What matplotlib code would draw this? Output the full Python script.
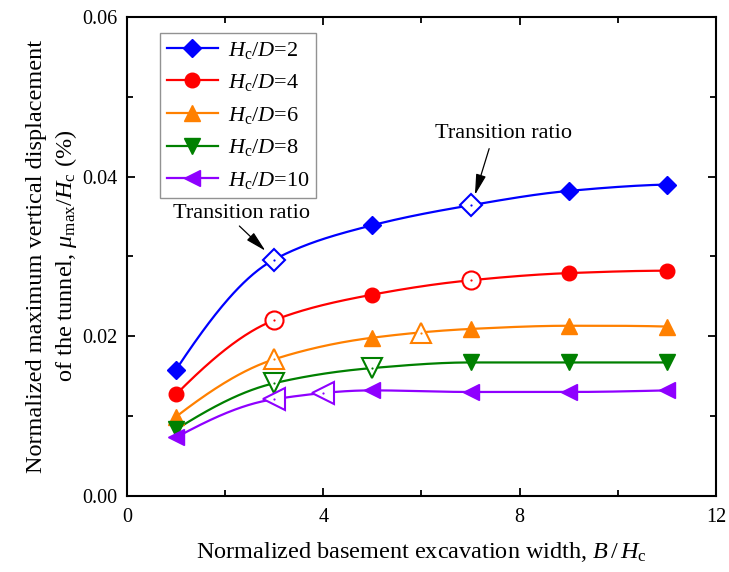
import numpy as np
import matplotlib
matplotlib.use("Agg")
import matplotlib.pyplot as plt
from matplotlib.ticker import MultipleLocator, FormatStrFormatter

plt.rcParams["font.family"] = ["Liberation Serif", "DejaVu Serif"]
plt.rcParams["mathtext.fontset"] = "custom"
plt.rcParams["mathtext.rm"] = "Liberation Serif"
plt.rcParams["mathtext.it"] = "Liberation Serif:italic"
plt.rcParams["mathtext.bf"] = "Liberation Serif:bold"

# B/Hc values of the main series
width_ratio = [1, 3, 5, 7, 9, 11]

disp_hd2 = [0.0158, 0.0296, 0.0339, 0.0364, 0.0382, 0.0390]
disp_hd4 = [0.0127, 0.0220, 0.0252, 0.0270, 0.0279, 0.0282]
disp_hd6 = [0.0099, 0.0171, 0.0198, 0.0209, 0.0213, 0.0212]
disp_hd8 = [0.0083, 0.0141, 0.0160, 0.0167, 0.0167, 0.0167]
disp_hd10 = [0.0073, 0.0121, 0.0132, 0.0130, 0.0130, 0.0132]

labels = ["$H_\\mathrm{c}/D$=2", "$H_\\mathrm{c}/D$=4", "$H_\\mathrm{c}/D$=6",
          "$H_\\mathrm{c}/D$=8", "$H_\\mathrm{c}/D$=10"]
colors = ["#0000FF", "#FF0000", "#FF8000", "#008000", "#8F00FF"]
markers = ["D", "o", "^", "v", "<"]

# transition points (hollow markers)
trans_x = [[3, 7], [3, 7], [3, 6], [3, 5], [3, 4]]
trans_y = [[0.0296, 0.0364], [0.0220, 0.0270], [0.0171, 0.0204],
           [0.0141, 0.0160], [0.0121, 0.0129]]

ms_full = {"D": 9.2, "o": 10.5, "^": 12, "v": 12, "<": 12}
ms_hollow = {"D": 11.2, "o": 13, "^": 15, "v": 15, "<": 15.5}


def pchip(x, y, n=300):
    # monotone piecewise cubic (Fritsch-Carlson) through the points
    x = np.asarray(x, float)
    y = np.asarray(y, float)
    h = np.diff(x)
    d = np.diff(y) / h
    m = np.zeros_like(y)
    for i in range(1, len(x) - 1):
        if d[i - 1] * d[i] > 0:
            w1 = 2 * h[i] + h[i - 1]
            w2 = h[i] + 2 * h[i - 1]
            m[i] = (w1 + w2) / (w1 / d[i - 1] + w2 / d[i])
    m[0] = ((2 * h[0] + h[1]) * d[0] - h[0] * d[1]) / (h[0] + h[1])
    if np.sign(m[0]) != np.sign(d[0]):
        m[0] = 0
    m[-1] = ((2 * h[-1] + h[-2]) * d[-1] - h[-1] * d[-2]) / (h[-1] + h[-2])
    if np.sign(m[-1]) != np.sign(d[-1]):
        m[-1] = 0
    xs = np.linspace(x[0], x[-1], n)
    idx = np.clip(np.searchsorted(x, xs) - 1, 0, len(x) - 2)
    t = (xs - x[idx]) / h[idx]
    h00 = 2 * t ** 3 - 3 * t ** 2 + 1
    h10 = t ** 3 - 2 * t ** 2 + t
    h01 = -2 * t ** 3 + 3 * t ** 2
    h11 = t ** 3 - t ** 2
    ys = h00 * y[idx] + h10 * h[idx] * m[idx] + h01 * y[idx + 1] + h11 * h[idx] * m[idx + 1]
    return xs, ys


fig = plt.figure(figsize=(7.29, 5.72), dpi=100)
ax = fig.add_axes([0.1742, 0.1334, 0.8078, 0.8369])

series = [disp_hd2, disp_hd4, disp_hd6, disp_hd8, disp_hd10]
for vals, lab, c, m, tx, ty in zip(series, labels, colors, markers, trans_x, trans_y):
    xs, ys = pchip(width_ratio, vals)
    ax.plot(xs, ys, color=c, lw=1.6, zorder=2)
    full_x = [x for x in width_ratio if x not in tx]
    full_y = [v for x, v in zip(width_ratio, vals) if x not in tx]
    ax.plot(full_x, full_y, ls="none", marker=m, color=c, ms=ms_full[m], zorder=3)
    ax.plot(tx, ty, ls="none", marker=m, mfc="white", mec=c, mew=1.5,
            ms=ms_hollow[m], zorder=4)
    ax.plot(tx, ty, ls="none", marker="o", color=c, ms=1.6, mew=0, zorder=5)
    ax.plot([], [], color=c, lw=1.6, marker=m, ms=ms_full[m], label=lab)

arrow_kw = dict(arrowstyle="-|>,head_length=0.9,head_width=0.22", color="black",
                lw=0.9, shrinkA=0, shrinkB=0, mutation_scale=14)
ax.text(2.34, 0.0354, "Transition ratio", ha="center", va="center", fontsize=16)
ax.annotate("", xy=(2.82, 0.0307), xytext=(2.29, 0.0338), arrowprops=arrow_kw)
ax.text(7.68, 0.04545, "Transition ratio", ha="center", va="center", fontsize=16)
ax.annotate("", xy=(7.09, 0.0377), xytext=(7.38, 0.0435), arrowprops=arrow_kw)

ax.set_xlim(0, 12)
ax.set_ylim(0, 0.06)
ax.xaxis.set_major_locator(MultipleLocator(4))
ax.xaxis.set_minor_locator(MultipleLocator(2))
ax.yaxis.set_major_locator(MultipleLocator(0.02))
ax.yaxis.set_minor_locator(MultipleLocator(0.01))
ax.yaxis.set_major_formatter(FormatStrFormatter("%.2f"))
ax.tick_params(which="both", direction="in", top=True, right=True,
               labelsize=14.5, width=1.3)
ax.tick_params(which="major", length=6)
ax.tick_params(which="minor", length=4)
ax.tick_params(axis="x", pad=9)
ax.tick_params(axis="y", pad=7)
for sp in ax.spines.values():
    sp.set_linewidth(1.5)

ax.set_xlabel("Normalized basement excavation width, $B\\,/\\,H_\\mathrm{c}$",
              fontsize=17.5, labelpad=9)
ax.set_ylabel("Normalized maximum vertical displacement\n"
              "of the tunnel, $\\mu_\\mathrm{max}/H_\\mathrm{c}$ (%)",
              fontsize=17.5, labelpad=2, linespacing=1.35)

leg = ax.legend(loc="upper left", bbox_to_anchor=(0.056, 0.9666), borderaxespad=0,
                fontsize=16, frameon=True, fancybox=False, edgecolor="#777777",
                handlelength=2.3, handletextpad=0.45, borderpad=0.3,
                labelspacing=0.52)
leg.get_frame().set_linewidth(1.0)

fig.savefig("out.png", dpi=100)
